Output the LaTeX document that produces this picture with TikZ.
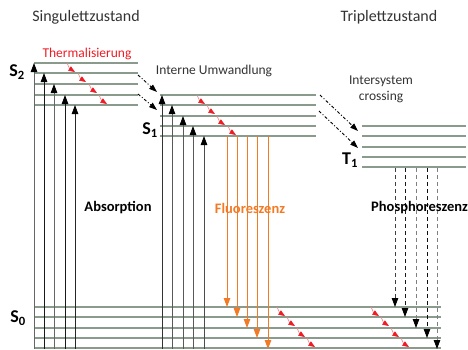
\documentclass[tikz,border=0pt]{standalone}
\usepackage{fontspec}
\setmainfont{Carlito}
\usetikzlibrary{arrows.meta}
\definecolor{levelcol}{HTML}{8A9A8C}
\definecolor{fluo}{HTML}{F27A24}
\definecolor{thermred}{HTML}{EE1C24}
\definecolor{thermpale}{HTML}{F08A8E}
\tikzset{
  level/.style={draw=levelcol, line width=1.2pt},
  bigtip/.style={-{Triangle[width=6.5pt,length=9pt,color=black]}},
  absorb/.style={bigtip, line width=0.8pt},
  fluoarrow/.style={-{Triangle[width=6.5pt,length=9pt]}, draw=fluo, line width=0.9pt},
  phosarrow/.style={bigtip, line width=0.8pt, dash pattern=on 3.5pt off 3.5pt},
  crossarrow/.style={-{Triangle[width=5.5pt,length=8pt]}, line width=0.9pt,
    dash pattern=on 3pt off 2pt on 1pt off 2pt},
  stateLabel/.style={font=\bfseries\fontsize{18}{20}\selectfont, inner sep=0pt},
  title/.style={font=\fontsize{16}{19}\selectfont, inner sep=0pt, text=black!80},
  note/.style={font=\fontsize{13.5}{16}\selectfont, inner sep=0pt, text=black!80, align=center},
  procLabel/.style={font=\bfseries\fontsize{14.5}{17}\selectfont, inner sep=0pt}
}
% one relaxation step: pale shaft, then a red head down to the next level
\newcommand{\relaxstep}[2]{%
  \draw[thermpale, line width=0.7pt] (#1,#2) -- ++(2.5,5.5) coordinate (rs);
  \draw[thermred, line width=0.7pt, -{Triangle[width=5pt,length=6.5pt]}] (rs) -- ++(5.5,3.5);
}
\begin{document}
\begin{tikzpicture}[x=1pt, y=-1pt]
\useasboundingbox (0,0) rectangle (468,349);

% vibrational levels
\foreach \y in {63,73,84,95,105} \draw[level] (34,\y) -- (138,\y);
\foreach \y in {95,105,116,126,136} \draw[level] (160,\y) -- (316,\y);
\foreach \y in {126,136,147,157,167} \draw[level] (362,\y) -- (466,\y);
\foreach \y in {307,317,328,338,348} \draw[level] (34,\y) -- (441,\y);

% absorption S0 -> S2 and S0 -> S1
\foreach \x/\y/\c in {34/63/black!60, 44/73/black!90, 54/84/black!60, 65/95/black!90, 75/105/black!85}
  \draw[absorb, draw=\c] (\x,349) -- (\x,\y);
\foreach \x/\y/\c in {162/95/black!80, 172/105/black!65, 183/116/black!65, 193/126/black!65, 204/136/black!70}
  \draw[absorb, draw=\c] (\x,349) -- (\x,\y);

% fluorescence S1 -> S0
\foreach \x/\y in {227/307, 237/317, 247/328, 257/338, 268/349}
  \draw[fluoarrow] (\x,136) -- (\x,\y);

% phosphorescence T1 -> S0
\foreach \x/\y/\c in {395/307/black!75, 405/317/black!90, 416/328/black!50, 427/338/black!95, 437/349/black!50}
  \draw[phosarrow, draw=\c] (\x,168) -- (\x,\y);

% internal conversion S2 -> S1
\draw[crossarrow] (138,75) -- (157,92);
\draw[crossarrow] (138,94) -- (157,110);
% intersystem crossing S1 -> T1
\draw[crossarrow] (320,95) -- (358,131);
\draw[crossarrow] (319,111) -- (358,148);

% vibrational relaxation
\foreach \x/\y in {67/63, 78/73, 89/84, 99/95} {\relaxstep{\x}{\y}}
\foreach \x/\y in {197/95, 207/105, 217/116, 228/126} {\relaxstep{\x}{\y}}
\foreach \x/\y in {277/307, 287/317, 297/328, 307/338} {\relaxstep{\x}{\y}}
\foreach \x/\y in {371/307, 381/317, 391/328, 401/338} {\relaxstep{\x}{\y}}

% labels
\node[title] (singlet) at (86,17) {Singulettzustand};
\node[title] (triplet) at (389,17) {Triplettzustand};
\node[note, text=thermred] (therm) at (87,54) {Thermalisierung};
\node[note] (ic) at (214,71) {Interne Umwandlung};
\node[note] (isc) at (381,89) {Intersystem\\crossing};
\node[stateLabel] (s2) at (17,72) {S\textsubscript{2}};
\node[stateLabel] (s1) at (150,130) {S\textsubscript{1}};
\node[stateLabel] (t1) at (350,160) {T\textsubscript{1}};
\node[stateLabel] (s0) at (18,318) {S\textsubscript{0}};
\node[procLabel] (abs) at (118,208) {Absorption};
\node[procLabel, text=fluo] (fl) at (250,208) {Fluoreszenz};
\node[procLabel, anchor=west] (ph) at (371,208) {Phosphoreszenz};
\end{tikzpicture}
\end{document}
